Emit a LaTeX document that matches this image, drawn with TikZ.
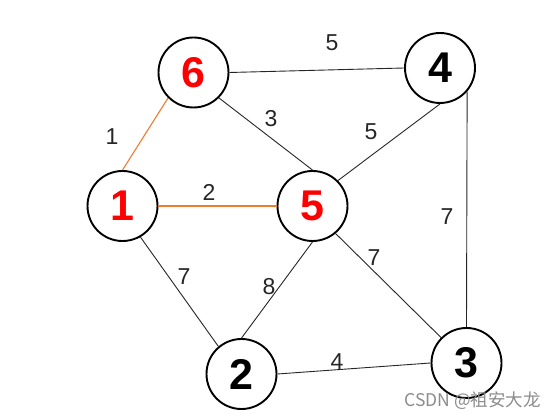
\documentclass[tikz,border=0pt]{standalone}
\usepackage{fontspec}
\setmainfont{Liberation Sans}
\newfontfamily\cjk{Noto Sans CJK SC}
\definecolor{treeorange}{HTML}{ED7D31}
\definecolor{hotred}{HTML}{FF0000}
\begin{document}
\begin{tikzpicture}[x=1pt,y=-1pt,
  vtx/.style={circle, draw=black, line width=1.9pt, minimum size=70pt, inner sep=0pt,
    font=\fontsize{43}{43}\selectfont\bfseries},
  hot/.style={text=hotred},
  edge/.style={draw=black!85, line width=0.9pt},
  treeedge/.style={draw=treeorange, line width=1.1pt},
  wt/.style={font=\fontsize{23}{23}\selectfont, text=black!85, inner sep=0pt}
]
\useasboundingbox[fill=white] (0,0) rectangle (558,419);

\node[vtx,hot] (n6) at (193.5,72.5) {6};
\node[vtx] (n4) at (440,68) {4};
\node[vtx,hot] (n1) at (122.5,206) {1};
\node[vtx,hot] (n5) at (312.5,206) {5};
\node[vtx] (n2) at (241.5,374) {2};
\node[vtx] (n3) at (466.5,363) {3};

\draw[edge] (n6.east) -- (n4.west);
\draw[treeedge] (n6.-135) -- (n1.north);
\draw[edge] (n6.-45) -- (n5.north);
\draw[edge] (n4.south) -- (n5.45);
\draw[edge] (n4.-41) -- (n3.north);
\draw[treeedge] (n1.east) -- (n5.west);
\draw[edge] (n1.-60) -- (n2.130);
\draw[edge] (n5.south) -- (n2.north);
\draw[edge] (n5.-50) -- (n3.135);
\draw[edge] (n2.east) -- (n3.west);

\node[wt] (w64) at (332,43) {5};
\node[wt] (w61) at (112,137) {1};
\node[wt] (w65) at (271,119) {3};
\node[wt] (w45) at (371,132) {5};
\node[wt] (w43) at (447,217) {7};
\node[wt] (w15) at (209,192) {2};
\node[wt] (w12) at (184,277) {7};
\node[wt] (w52) at (269,287) {8};
\node[wt] (w53) at (374,258) {7};
\node[wt] (w23) at (337,362) {4};

\node[font=\cjk\fontsize{17.5}{17.5}\selectfont, text=black!45, inner sep=0pt] (wm) at (472.5,401) {CSDN @祖安大龙};
\end{tikzpicture}
\end{document}
